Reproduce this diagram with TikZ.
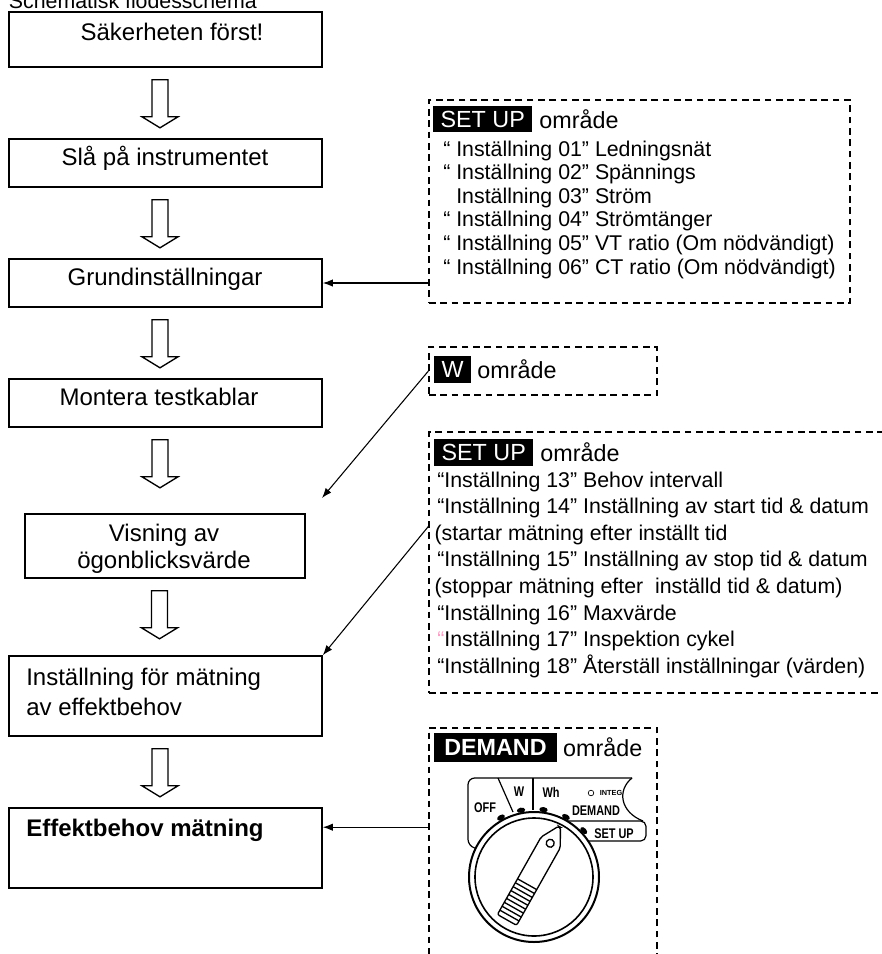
\documentclass[tikz,border=0pt]{standalone}
\usepackage{fontspec}
\setmainfont{Liberation Sans}
\usetikzlibrary{arrows.meta,calc,fit,positioning}

\definecolor{quotepink}{RGB}{244,160,196}
\newcommand\boxfont{\fontsize{18}{20}\selectfont}
\newcommand\zonefont{\fontsize{16}{18}\selectfont}
\newcommand\hdrfont{\fontsize{17.5}{19}\selectfont}

\tikzset{
  stepbox/.style={draw, line width=1.2pt, inner sep=0pt},
  zone/.style={draw, line width=0.9pt, dash pattern=on 5pt off 3.5pt, inner sep=0pt},
  hdr/.style={fill=black, text=white, font=\hdrfont, inner xsep=5.5pt, inner ysep=0pt, minimum height=20pt},
  txt/.style={inner sep=0pt, font=\boxfont},
  zline/.style={inner sep=0pt, font=\zonefont, anchor=base west},
  conn/.style={-{Latex[length=7.5pt,width=5.5pt]}, line width=0.8pt},
  hollow/.style={line width=1pt, line join=miter},
  dial/.style={inner sep=0pt, font=\fontsize{10.5}{10.5}\selectfont\bfseries, xscale=0.78, transform shape},
}

\begin{document}
\begin{tikzpicture}[x=0.75pt, y=-0.75pt]
\useasboundingbox (0,0) rectangle (882,954);
\clip (0,0) rectangle (882,954);

\node[inner sep=0pt, font=\fontsize{16}{17}\selectfont, anchor=base east] (title) at (257,8) {Schematisk flödesschema};

% flow boxes
\node[stepbox, fit={(9,12) (322,67)}] (safe) {};
\node[stepbox, fit={(9,139) (322,187)}] (power) {};
\node[stepbox, fit={(9,259) (322,307)}] (basic) {};
\node[stepbox, fit={(9,379) (322,427)}] (cables) {};
\node[stepbox, fit={(25,514) (305,578)}] (view) {};
\node[stepbox, fit={(9,656) (322,736)}] (demandset) {};
\node[stepbox, fit={(9,808) (322,888)}] (measure) {};

\node[txt, anchor=base] (t1) at (172,40) {Säkerheten först!};
\node[txt, anchor=base] (t2) at (165,165) {Slå på instrumentet};
\node[txt, anchor=base] (t3) at (165,285) {Grundinställningar};
\node[txt, anchor=base] (t4) at (159,405) {Montera testkablar};
\node[txt, anchor=base] (t5a) at (164,541) {Visning av};
\node[txt, anchor=base] (t5b) at (164,568) {ögonblicksvärde};
\node[txt, anchor=base west] (t6a) at (26,685) {Inställning för mätning};
\node[txt, anchor=base west] (t6b) at (26,715) {av effektbehov};
\node[txt, anchor=base west, font=\boxfont\bfseries] (t7) at (26,836) {Effektbehov mätning};

% hollow arrows between the steps
\foreach \b in {safe,power,basic,cables,view,demandset}
  \draw[hollow] ($(\b.south)+(-13.5,12)$) -- ++(16,0) -- ++(0,37) -- ++(10,0)
    -- ++(-18,11) -- ++(-18,-11) -- ++(10,0) -- cycle;

% dashed areas on the right
\node[zone, fit={(429,100) (850,303)}] (zsetup) {};
\node[zone, fit={(429,347) (657,395)}] (zw) {};
\node[zone, fit={(429,432) (900,693)}] (zsetupb) {};
\node[zone, fit={(429,728) (657,970)}] (zdemand) {};

\node[hdr, anchor=west] (hsetup) at (433,119) {SET UP};
\node[inner sep=0pt, font=\hdrfont, right=5pt of hsetup] (osetup) {område};
\node[hdr, anchor=west] (hw) at (434,369.5) {W};
\node[inner sep=0pt, font=\hdrfont, right=4.5pt of hw] (ow) {område};
\node[hdr, anchor=west] (hsetupb) at (434,452.5) {SET UP};
\node[inner sep=0pt, font=\hdrfont, right=5pt of hsetupb] (osetupb) {område};
\node[hdr, anchor=west, inner xsep=7.5pt, minimum height=21.5pt, font=\hdrfont\bfseries] (hdemand) at (434,747.5) {DEMAND};
\node[inner sep=0pt, font=\hdrfont, right=4.5pt of hdemand] (odemand) {område};

\foreach \t [count=\i from 0] in {“ Inställning 01” Ledningsnät,
    “ Inställning 02” Spännings,
    \hphantom{“ }Inställning 03” Ström,
    “ Inställning 04” Strömtänger,
    “ Inställning 05” VT ratio (Om nödvändigt),
    “ Inställning 06” CT ratio (Om nödvändigt)}
  \node[zline] (za\i) at (443,156+23.6*\i) {\t};

\foreach \t [count=\i from 0] in {“Inställning 13” Behov intervall,
    “Inställning 14” Inställning av start tid \& datum,
    \kern-2pt(startar mätning efter inställt tid,
    “Inställning 15” Inställning av stop tid \& datum,
    \kern-2pt(stoppar mätning efter\ \ inställd tid \& datum),
    “Inställning 16” Maxvärde,
    {\color{quotepink}“}Inställning 17” Inspektion cykel,
    “Inställning 18” Återställ inställningar (värden)}
  \node[zline] (zb\i) at (437,487+26.6*\i) {\t};

% selector dial
\coordinate (dialc) at (534,877);
\draw[line width=0.9pt, rounded corners=5] (492,853) -- (468,846) -- (468,778) -- (632,778);
\draw[line width=0.9pt] (632,778) .. controls (617,790) and (620,812) .. (643,821);
\draw[line width=0.9pt, rounded corners=4] (560,821) -- (646,821) -- (646,841) -- (585,841);
\draw[line width=0.9pt] (498,778) -- (513,812);
\draw[line width=0.9pt] (533,778) -- (533,810);
\node[dial] (off) at (485,808) {OFF};
\node[dial] (w) at (519,792) {W};
\node[dial] (wh) at (551,792) {Wh};
\node[dial] (dem) at (596,811) {DEMAND};
\node[dial] (setup) at (614,834) {SET UP};
\node[inner sep=0pt, font=\fontsize{5.5}{5.5}\selectfont\bfseries] (integ) at (611,793) {INTEG};
\draw[line width=0.5pt] (591,793) circle (2.8);
\draw[line width=1.5pt, fill=white] (dialc) circle (65);
\draw[line width=1.2pt] (dialc) circle (59);
\foreach \a in {119,101,82,62,43}
  \fill[shift={($(dialc)+(-\a:68)$)}, rotate=\a-90] (0,0) ellipse (4.2 and 2.6);
\begin{scope}[shift={(534,872)}, rotate=60.6, line width=1pt]
  \draw[fill=white, rounded corners=1.5] (-55,-11) -- (34,-11) -- (52,-1) -- (52,1) -- (34,11) -- (-55,11) -- cycle;
  \draw (33,0) circle (4);
  \foreach \u in {-50,-45.5,...,-12} \draw (\u,-11) -- (\u,11);
\end{scope}

% links from the areas to the steps
\draw[conn] (basic.east -| zsetup.west) -- (basic.east);
\coordinate (wend) at (322,498);
\draw[conn] (zw.west) -- (wend);
\draw[conn] ($(zsetupb.north west)+(0,95)$) -- (demandset.north east);
\coordinate (mhit) at ($(measure.north east)+(0,20)$);
\draw[conn] (mhit -| zdemand.west) -- (mhit);
\end{tikzpicture}
\end{document}
